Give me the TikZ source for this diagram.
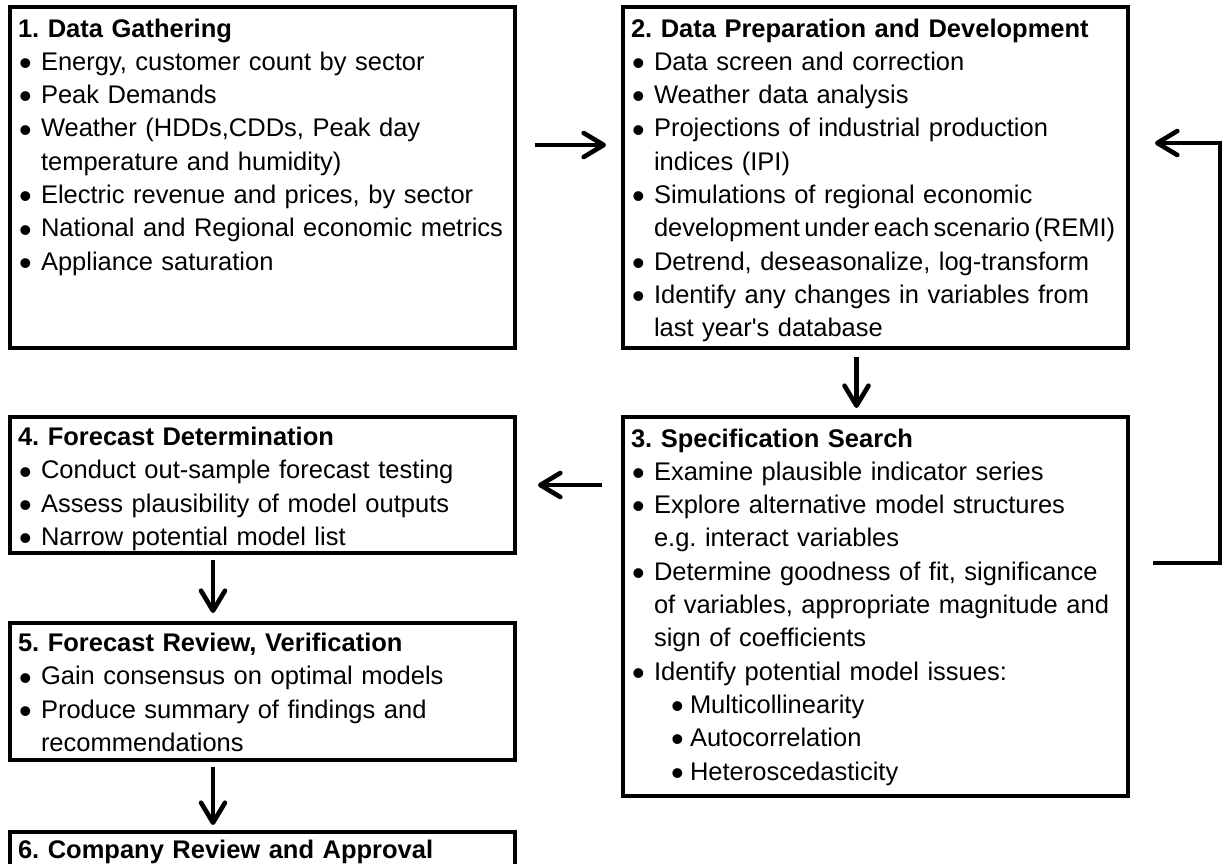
\documentclass[tikz,border=0pt]{standalone}
\usepackage{fontspec}
\setmainfont{Liberation Sans}
\usepackage{tikz}
\usetikzlibrary{positioning,arrows.meta}

\newcommand{\bul}{\raisebox{-2.6pt}{\fontsize{18pt}{0pt}\selectfont\textbullet}}
\newcommand{\itm}{\makebox[14.5pt][l]{\hspace*{3.5pt}\bul}}
\newcommand{\cnt}{\hspace*{14.5pt}}
\newcommand{\sitm}{\hspace*{23pt}\makebox[9.5pt][l]{\bul}}
\newcommand{\ttl}[1]{\hspace*{3pt}\textbf{#1}}

\begin{document}
\frenchspacing
\begin{tikzpicture}
		[
			node distance=34.5pt,
			every node/.style={draw, rectangle, line width=1.9pt, outer sep=0pt, inner xsep=1pt, inner ysep=4pt, text width=250.5pt, text height=11pt, align=left, font=\fontsize{12.75pt}{16.65pt}\selectfont},
			>={Straight Barb[length=10pt,width=12pt,round]},
			arr/.style={->, line width=2.3pt}
		]
		\useasboundingbox (0,0) rectangle (611pt,-431.5pt);
		\clip (0,0) rectangle (611pt,-431.5pt);

		\node (gather) [anchor=north west, text depth=151.5pt] at (5pt,-3.5pt) {\ttl{1. Data Gathering}\\
			\itm Energy, customer count by sector\\
			\itm Peak Demands\\
			\itm Weather (HDDs,CDDs, Peak day\\
			\cnt temperature and humidity)\\
			\itm Electric revenue and prices, by sector\\
			\itm National and Regional economic metrics\\
			\itm Appliance saturation};
		\node (prep) [right=54pt of gather, text depth=151.5pt] {\ttl{2. Data Preparation and Development}\\
			\itm Data screen and correction\\
			\itm Weather data analysis\\
			\itm Projections of industrial production\\
			\cnt indices (IPI)\\
			\itm Simulations of regional economic\\
			\cnt \mbox{\spaceskip=2.2pt development under each scenario (REMI)}\\
			\itm Detrend, deseasonalize, log-transform\\
			\itm Identify any changes in variables from\\
			\cnt last year\textquotesingle s database};
		\node (search) [below=34.5pt of prep, text depth=170.5pt] {\ttl{3. Specification Search}\\
			\itm Examine plausible indicator series\\
			\itm Explore alternative model structures\\
			\cnt e.g. interact variables\\
			\itm Determine goodness of fit, significance\\
			\cnt of variables, appropriate magnitude and\\
			\cnt sign of coefficients\\
			\itm Identify potential model issues:\\
			\sitm Multicollinearity\\
			\sitm Autocorrelation\\
			\sitm Heteroscedasticity};
		\node (determ) [below=34.5pt of gather, text height=10.25pt, text depth=49.75pt] {\ttl{4. Forecast Determination}\\
			\itm Conduct out-sample forecast testing\\
			\itm Assess plausibility of model outputs\\
			\itm Narrow potential model list};
		\node (review) [below=35pt of determ, text height=10.25pt, text depth=50.25pt] {\ttl{5. Forecast Review, Verification}\\
			\itm Gain consensus on optimal models\\
			\itm Produce summary of findings and\\
			\cnt recommendations};
		\node (approval) [below=36pt of review, text height=9pt, text depth=40pt] {\ttl{6. Company Review and Approval}};

		\draw[arr, shorten <=10pt, shorten >=8.5pt] ([yshift=16.25pt]gather.east) -- ([yshift=16.25pt]prep.west);
		\draw[arr, shorten <=4.5pt, shorten >=4.5pt] ([xshift=-9.5pt]prep.south) -- ([xshift=-9.5pt]search.north);
		\draw[arr, shorten <=10.5pt, shorten >=11.5pt] (search.west |- determ.east) -- (determ.east);
		\draw[arr, shorten <=3.5pt, shorten >=5pt] ([xshift=-24.75pt]determ.south) -- ([xshift=-24.75pt]review.north);
		\draw[arr, shorten <=3.5pt, shorten >=3.5pt] ([xshift=-24.75pt]review.south) -- ([xshift=-24.75pt]approval.north);
		\draw[arr, shorten <=12.5pt, shorten >=13.5pt] ([yshift=21.75pt]search.east) -- ++(46pt,0) |- ([yshift=17.25pt]prep.east);
	\end{tikzpicture}
\end{document}
